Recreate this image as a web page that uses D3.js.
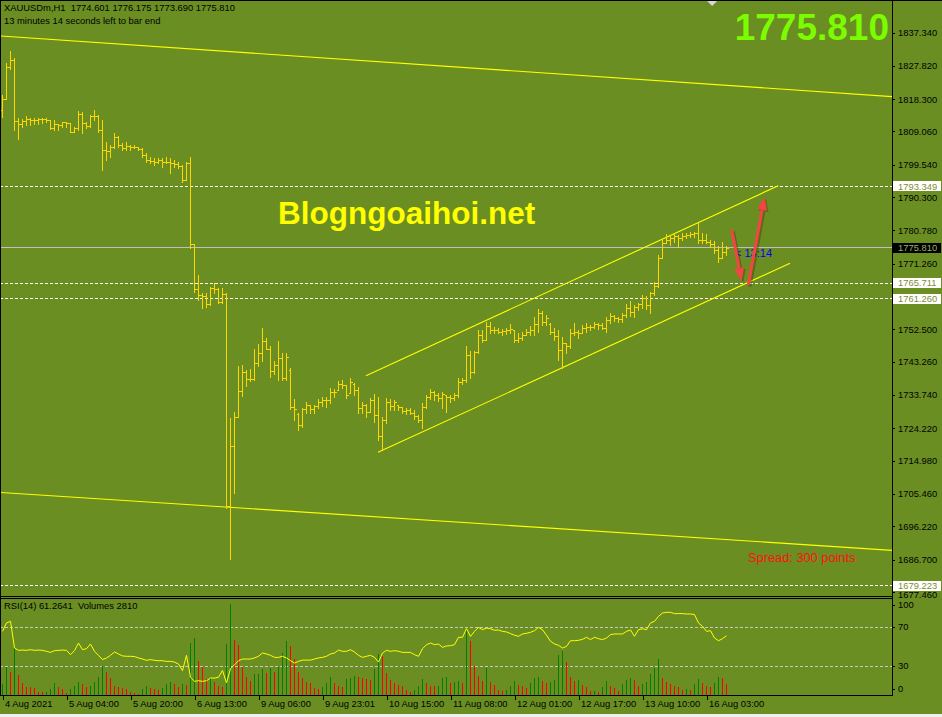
<!DOCTYPE html>
<html><head><meta charset="utf-8">
<script src="https://cdn.jsdelivr.net/npm/d3@7"></script>
<style>
html,body{margin:0;padding:0;background:#6b8e23;}
svg{display:block;}
text{font-family:"Liberation Sans",Arial,sans-serif;white-space:pre;}
</style></head>
<body><svg id="c" width="942" height="717"></svg>
<script>
// ---------------- DATA ----------------
const symbol = "XAUUSDm,H1";
const countdownText = "13 minutes 14 seconds left to bar end";
const opens = [1815.2,1818.3,1827.4,1829.5,1812.1,1811.2,1812.0,1812.6,1812.3,1812.3,1812.6,1812.6,1812.3,1810.0,1811.2,1810.9,1811.7,1811.4,1808.9,1810.0,
1814.0,1811.5,1810.6,1813.5,1813.5,1809.5,1803.8,1803.5,1804.6,1807.5,1805.2,1804.3,1804.9,1804.6,1804.6,1804.0,1802.3,1800.9,1800.6,1800.3,
1800.9,1800.3,1800.3,1800.0,1799.8,1799.2,1795.2,1800.0,1776.9,1764.0,1762.3,1762.0,1759.7,1764.3,1764.0,1760.3,1762.6,1702.0,1719.2,1727.5,
1734.8,1740.4,1738.2,1738.3,1742.8,1745.6,1749.2,1746.9,1740.6,1742.3,1744.2,1738.5,1741.0,1730.3,1728.4,1725.2,1729.7,1730.9,1729.7,1730.6,
1731.7,1732.3,1732.3,1734.6,1735.2,1736.9,1736.6,1734.2,1737.0,1735.2,1730.0,1730.9,1728.9,1732.3,1728.0,1722.0,1726.6,1731.7,1730.6,1730.9,
1730.3,1729.2,1729.4,1728.6,1727.7,1726.6,1730.3,1733.2,1734.6,1733.7,1732.9,1733.7,1733.2,1732.9,1733.7,1737.4,1738.0,1745.2,1740.3,1746.0,
1750.9,1749.4,1753.5,1752.3,1752.3,1751.7,1752.0,1752.3,1752.3,1749.4,1750.0,1750.9,1751.7,1752.3,1754.0,1757.2,1754.6,1754.0,1751.7,1750.6,
1746.6,1748.5,1747.7,1751.5,1751.7,1751.5,1752.9,1753.2,1753.2,1754.0,1753.7,1752.9,1755.2,1756.3,1755.7,1755.4,1756.6,1758.6,1757.5,1758.9,
1759.7,1761.5,1759.5,1762.9,1764.9,1772.9,1777.2,1778.0,1778.6,1779.2,1778.6,1779.2,1779.5,1779.7,1780.0,1778.0,1778.0,1777.5,1776.9,1775.2,
1772.9,1774.601];
const highs = [1819.5,1828.5,1832.1,1830.0,1812.8,1812.5,1813.5,1812.8,1812.8,1813.0,1812.8,1813.0,1812.3,1812.3,1811.2,1811.8,1811.7,1811.4,1810.4,1814.9,
1814.7,1811.8,1813.8,1815.2,1813.8,1812.3,1806.1,1805.2,1808.5,1807.8,1805.7,1806.1,1805.2,1805.2,1804.7,1804.2,1802.8,1801.8,1801.6,1801.6,
1801.4,1801.8,1801.4,1800.9,1800.4,1799.5,1800.4,1801.8,1776.9,1768.0,1762.8,1762.8,1764.7,1765.8,1764.2,1764.2,1763.0,1727.1,1729.0,1742.0,
1742.3,1740.9,1741.2,1746.8,1748.3,1752.8,1749.9,1747.7,1743.4,1749.2,1745.6,1745.8,1741.4,1732.5,1728.5,1729.9,1731.8,1730.9,1730.9,1732.6,
1733.2,1733.2,1735.8,1735.4,1737.7,1738.0,1736.6,1738.5,1737.1,1735.9,1731.6,1731.2,1732.8,1734.0,1733.1,1727.5,1732.8,1732.6,1732.3,1730.9,
1730.4,1729.9,1729.9,1729.4,1728.0,1731.5,1733.7,1735.4,1734.9,1734.2,1734.7,1733.7,1733.7,1734.2,1738.5,1738.5,1747.7,1746.4,1746.3,1752.3,
1752.3,1754.7,1754.7,1753.3,1752.8,1752.5,1752.8,1754.0,1752.3,1751.4,1751.8,1752.5,1753.5,1756.1,1758.2,1757.7,1756.6,1754.2,1752.8,1752.3,
1750.4,1748.5,1752.5,1754.2,1752.3,1753.7,1754.2,1753.7,1754.7,1754.4,1754.2,1756.1,1757.3,1756.6,1755.9,1757.1,1759.7,1760.7,1759.5,1760.1,
1762.3,1762.0,1763.3,1766.1,1773.7,1778.0,1779.7,1779.5,1779.9,1779.5,1779.9,1780.1,1780.4,1780.4,1782.8,1779.9,1779.7,1778.0,1777.7,1776.3,
1777.5,1776.175];
const lows = [1813.3,1818.3,1826.8,1809.5,1806.8,1810.4,1810.9,1810.9,1811.1,1811.1,1811.6,1811.8,1809.7,1809.5,1809.5,1810.4,1810.4,1808.8,1808.8,1809.5,
1808.5,1810.0,1810.4,1812.3,1809.0,1798.0,1800.9,1801.8,1804.2,1804.7,1803.8,1803.8,1803.8,1804.2,1803.8,1801.7,1800.4,1800.0,1799.5,1800.0,
1799.0,1800.0,1797.1,1799.0,1798.5,1794.7,1795.2,1775.7,1763.3,1760.9,1758.5,1758.8,1759.5,1762.8,1759.9,1759.9,1701.3,1686.8,1705.8,1727.5,
1733.4,1736.3,1737.7,1738.0,1742.0,1743.5,1746.8,1739.0,1739.7,1738.0,1738.0,1738.0,1729.6,1726.6,1723.7,1724.7,1728.5,1728.5,1728.5,1729.9,
1730.6,1730.4,1731.4,1733.2,1735.2,1735.6,1732.8,1734.2,1733.7,1728.7,1728.7,1727.5,1728.9,1726.1,1720.9,1718.0,1725.6,1729.4,1729.4,1729.4,
1728.5,1728.2,1728.2,1726.8,1726.1,1724.2,1730.1,1732.6,1732.3,1732.1,1729.9,1729.0,1731.8,1732.3,1733.2,1736.9,1737.5,1738.5,1739.9,1745.8,
1749.0,1749.4,1751.4,1751.4,1751.4,1750.9,1751.1,1751.4,1749.0,1749.0,1749.4,1750.9,1750.9,1750.9,1751.8,1753.7,1753.7,1751.1,1749.4,1743.7,
1741.4,1745.6,1747.1,1750.9,1749.9,1751.4,1751.8,1752.3,1752.8,1752.5,1752.5,1751.8,1754.2,1755.0,1754.7,1754.7,1755.9,1756.3,1756.1,1758.0,
1758.5,1758.3,1757.1,1762.3,1764.7,1772.9,1777.1,1776.6,1777.5,1776.1,1778.0,1778.5,1778.8,1778.8,1777.3,1777.3,1777.1,1776.1,1774.2,1771.8,
1772.8,1773.690];
const closes = [1818.3,1827.4,1829.5,1812.1,1811.2,1812.0,1812.6,1812.3,1812.3,1812.6,1812.6,1812.3,1810.0,1811.2,1810.9,1811.8,1811.5,1808.9,1810.0,1814.0,
1811.5,1810.6,1813.5,1813.5,1809.5,1803.8,1803.5,1804.6,1807.5,1805.2,1804.3,1804.9,1804.6,1804.6,1804.0,1802.3,1800.9,1800.6,1800.3,1800.9,
1800.3,1800.3,1800.0,1799.8,1799.2,1795.2,1800.0,1776.9,1764.0,1762.3,1762.0,1759.7,1764.3,1764.0,1760.3,1762.6,1702.0,1719.2,1727.5,1734.8,
1740.4,1738.2,1738.3,1742.8,1745.6,1749.2,1746.9,1740.6,1742.3,1744.2,1738.5,1744.6,1730.3,1729.7,1725.2,1729.7,1730.9,1729.7,1730.6,1731.7,
1732.3,1732.3,1734.6,1734.6,1736.9,1736.6,1733.7,1737.4,1735.2,1730.0,1730.9,1728.9,1732.3,1728.0,1722.0,1726.6,1731.7,1730.6,1731.7,1730.3,
1729.2,1729.4,1728.6,1727.7,1726.6,1730.3,1733.2,1734.6,1733.7,1732.9,1734.0,1733.2,1732.9,1733.7,1737.4,1738.0,1745.2,1740.3,1746.0,1750.9,
1749.4,1753.5,1752.3,1752.3,1751.7,1752.0,1752.3,1752.6,1749.4,1750.0,1750.9,1751.7,1752.3,1754.0,1757.2,1754.6,1755.7,1751.7,1750.6,1746.6,
1748.6,1747.7,1751.5,1751.7,1751.5,1752.9,1753.2,1753.2,1754.0,1753.7,1752.9,1755.2,1756.3,1755.7,1755.4,1756.6,1758.6,1757.5,1758.9,1759.7,
1761.5,1759.5,1762.9,1764.9,1772.9,1777.2,1778.0,1778.6,1779.2,1778.6,1779.2,1779.5,1779.7,1780.0,1778.0,1778.0,1777.5,1776.9,1775.2,1772.9,
1774.6,1775.810];
const volumes = [3000,7250,6000,12000,5180,3080,2250,2080,1880,1000,830,900,1680,3080,2250,1680,750,1680,2500,3330,
3000,2250,2500,3330,4580,7500,6000,4330,2500,2250,2000,1680,830,580,500,1680,2500,2000,1680,1430,
1830,2930,3330,2830,2250,2830,2750,13080,14330,8680,7250,4180,4330,3500,2500,2250,12930,22930,13930,12680,
7250,4630,3580,5330,5500,6580,5580,6930,5830,7080,10580,13680,12430,9080,5930,4330,3330,3250,1830,1680,
2080,3080,4580,3080,2330,2250,4180,4330,4830,4580,4500,4180,3830,6680,10330,10000,5580,3930,3080,2680,
2430,1430,830,1430,2500,4180,3080,2500,2330,2500,4330,4580,3080,3330,3580,3080,16680,13680,7500,4830,
3630,6930,3330,2680,1330,1080,1330,2330,3580,2580,2500,1930,3080,4330,4580,3580,3080,3330,3830,10080,
11080,8330,4580,3580,3830,2580,2080,1080,1150,830,2080,3580,2330,1830,1080,2830,3830,4330,3830,2500,
2830,3330,5330,6830,9080,4330,3330,2830,2330,2250,1330,1580,1330,2830,4080,3080,2330,2080,3080,4580,
4330,2810];
const rsi = [65.8,74.4,76.1,48.7,46.3,46.6,46.3,47.0,46.3,46.6,46.3,45.3,44.2,46.0,46.3,46.6,46.3,41.9,46.0,53.8,
47.0,48.0,52.8,45.3,41.2,36.8,38.5,41.2,44.6,42.6,40.6,40.2,40.2,39.9,38.5,37.4,36.1,36.8,36.1,35.7,
35.7,35.0,35.0,34.3,32.3,25.5,41.2,18.7,14.5,15.2,14.5,15.2,17.9,17.9,18.7,25.6,13.0,27.5,31.6,35.7,
37.4,37.4,37.4,38.5,40.2,43.6,42.6,41.2,39.1,39.1,40.2,38.5,35.7,33.3,35.0,36.3,36.3,36.3,37.4,38.5,
39.1,40.2,42.6,43.6,46.6,45.3,45.3,47.0,44.6,41.2,39.1,40.2,41.2,39.1,34.3,43.6,46.3,45.3,46.0,45.3,
44.2,44.2,44.2,41.9,40.2,48.0,52.1,53.8,52.1,52.8,49.4,50.8,51.1,52.1,59.7,59.7,68.5,60.6,65.8,69.9,
67.5,69.2,68.5,66.9,67.2,65.8,65.2,63.5,61.8,60.7,63.1,63.8,64.8,66.5,69.9,67.5,61.8,55.6,52.9,51.5,
48.7,50.4,56.2,56.2,56.6,57.6,59.7,57.3,59.7,58.3,57.3,59.0,62.4,63.1,63.1,63.1,65.8,67.2,60.7,67.5,
68.5,67.5,74.4,76.1,81.2,84.6,85.3,85.3,84.0,84.0,84.0,83.6,83.6,83.0,74.4,71.0,65.8,66.5,59.0,56.2,
58.3,61.26];
const timeTickIdx = [0,16,32,48,64,80,96,112,128,144,160,176];
const timeTickLabels = ["4 Aug 2021","5 Aug 04:00","5 Aug 20:00","6 Aug 13:00","9 Aug 06:00","9 Aug 23:01","10 Aug 15:00","11 Aug 08:00","12 Aug 01:00","12 Aug 17:00","13 Aug 10:00","16 Aug 03:00"];
const priceTicks = [1837.340,1827.820,1818.300,1809.060,1799.540,1790.300,1780.780,1771.260,1752.500,1743.260,1733.740,1724.220,1714.980,1705.460,1696.220,1686.700,1677.460];
const hLevels = [1793.349,1765.711,1761.260,1679.223];
const bidPrice = 1775.810;
const rsiLevels = [70,30];
const rsiTicks = [100,70,30,0];
// trend lines: [barIndex, price] endpoints
const longTop = [[-0.625,1836.34],[222.4,1819.02]];
const longBottom = [[-0.625,1705.88],[222.4,1689.31]];
const chanUpper = [[90.875,1739.24],[193.95,1793.55]];
const chanLower = [[93.875,1717.34],[196.875,1771.37]];
const arrowDown = [[182.3,1780.89],[184.8,1766.31]];
const arrowUp = [[186.45,1765.17],[190.5,1790.32]];
const shiftMarkerIdx = 177.4;
const rsiLabel = "RSI(14) 61.2641  Volumes 2810";
const timerText = "< 13:14";
const spreadText = "Spread: 300 points";
const watermark = "Blogngoaihoi.net";

// ---------------- DRAW ----------------
const svg = d3.select("#c");
const AX = 892, MAIN_B = 596, SUB_T = 598.5, SUB_B = 696;
const FS = 9.4;
const n = closes.length;
const x = d3.scaleLinear().domain([0, n-1]).range([2.5, 2.5 + 4*(n-1)]);
const y = d3.scaleLinear().domain([1837.34, 1686.70]).range([32.5, 559.5]);
const yR = d3.scaleLinear().domain([0, 100]).range([695.5, 598]);
const yV = d3.scaleLinear().domain([0, 24375]).range([695.5, 598]);
const px = v => Math.round(v - 0.5) + 0.5;

svg.append("rect").attr("width", 942).attr("height", 717).attr("fill", "#6b8e23");

const defs = svg.append("defs");
defs.append("clipPath").attr("id","cm").append("rect").attr("x",1).attr("y",1).attr("width",AX-1).attr("height",MAIN_B-1);
defs.append("clipPath").attr("id","cs").append("rect").attr("x",1).attr("y",SUB_T+0.5).attr("width",AX-1).attr("height",SUB_B-SUB_T-1);

const main = svg.append("g").attr("clip-path","url(#cm)");
const sub = svg.append("g").attr("clip-path","url(#cs)");

// horizontal dashed levels
main.selectAll("line.hl").data(hLevels).join("line").attr("class","hl")
  .attr("x1",0).attr("x2",AX).attr("y1",d=>px(y(d))).attr("y2",d=>px(y(d)))
  .attr("stroke","#ffffff").attr("stroke-width",1).attr("stroke-dasharray","3,2").attr("shape-rendering","crispEdges");
// bid line
main.append("line").attr("x1",0).attr("x2",AX).attr("y1",px(y(bidPrice))).attr("y2",px(y(bidPrice)))
  .attr("stroke","#c0c0c0").attr("stroke-width",1).attr("shape-rendering","crispEdges");

// trend lines
[longTop,longBottom,chanUpper,chanLower].forEach(L=>{
  main.append("line").attr("x1",x(L[0][0])).attr("y1",y(L[0][1])).attr("x2",x(L[1][0])).attr("y2",y(L[1][1]))
   .attr("stroke","#ffff00").attr("stroke-width",1.1);
});

// bars
const bars = main.append("g").attr("fill","#ffd700");
d3.range(n).forEach(i=>{
  const cx = x(i) - 0.5;
  const yh = Math.round(y(highs[i])), yl = Math.round(y(lows[i]));
  bars.append("rect").attr("x",cx).attr("y",yh).attr("width",1).attr("height",Math.max(1,yl-yh+1));
  bars.append("rect").attr("x",cx-1).attr("y",Math.round(y(opens[i]))).attr("width",1).attr("height",1);
  bars.append("rect").attr("x",cx+1).attr("y",Math.round(y(closes[i]))).attr("width",2).attr("height",1);
});

// watermark
main.append("text").attr("x",278).attr("y",224).attr("fill","#ffff00").attr("font-size",31.5).attr("font-weight","bold").text(watermark);

// big price
svg.append("text").attr("x",889).attr("y",40).attr("text-anchor","end").attr("fill","#7cfc00")
  .attr("font-size",37).attr("font-weight","bold").text(d3.format(".3f")(bidPrice));

// timer text
main.append("text").attr("x",735).attr("y",257).attr("fill","#0000ff").attr("font-family","DejaVu Sans").attr("font-size",11).text(timerText);

// arrows
function arrow(A){
  const x1=x(A[0][0]), y1=y(A[0][1]), x2=x(A[1][0]), y2=y(A[1][1]);
  const ang=Math.atan2(y2-y1,x2-x1), L=13, Wd=5;
  const bx=x2-L*Math.cos(ang), by=y2-L*Math.sin(ang);
  const head=[[x2,y2],[bx+Wd*Math.sin(ang),by-Wd*Math.cos(ang)],[bx-Wd*Math.sin(ang),by+Wd*Math.cos(ang)]];
  const g=main.append("g");
  g.append("line").attr("x1",x1+1.5).attr("y1",y1+1.5).attr("x2",bx+1.5).attr("y2",by+1.5).attr("stroke","rgba(60,40,0,0.35)").attr("stroke-width",3.5);
  g.append("path").attr("d","M"+head.map(p=>[p[0]+1.5,p[1]+1.5].join(",")).join("L")+"Z").attr("fill","rgba(60,40,0,0.35)");
  g.append("line").attr("x1",x1).attr("y1",y1).attr("x2",bx).attr("y2",by).attr("stroke","#f44444").attr("stroke-width",3);
  g.append("path").attr("d","M"+head.map(p=>p.join(",")).join("L")+"Z").attr("fill","#f44444");
}
arrow(arrowDown); arrow(arrowUp);

// spread text
main.append("text").attr("x",748).attr("y",562).attr("fill","#ff1010").attr("font-size",12.8).text(spreadText);

// header
svg.append("text").attr("x",4).attr("y",11).attr("font-size",FS).attr("fill","#000")
  .text(symbol+"  "+[opens[n-1],highs[n-1],lows[n-1],closes[n-1]].map(d3.format(".3f")).join(" "));
svg.append("text").attr("x",4).attr("y",24).attr("font-size",FS).attr("fill","#000").text(countdownText);

// shift marker
svg.append("path").attr("d",`M${x(shiftMarkerIdx)-5},1L${x(shiftMarkerIdx)+5},1L${x(shiftMarkerIdx)},6Z`).attr("fill","#d8d8d8");

// price axis
const ya = svg.append("g").attr("transform",`translate(${AX},0)`)
  .call(d3.axisRight(y).tickValues(priceTicks).tickSize(3).tickPadding(3).tickFormat(d3.format(".3f")));
ya.select(".domain").remove();
ya.selectAll("line").attr("stroke","#000").attr("shape-rendering","crispEdges");
ya.selectAll("text").attr("fill","#000").attr("font-size",FS).attr("font-family","Liberation Sans, Arial, sans-serif");
// lowest tick label sits just under the level box, as in the terminal
ya.selectAll(".tick").filter(d=>d===priceTicks[priceTicks.length-1]).select("text").attr("y",2.5);

// level labels
const lv = svg.append("g");
hLevels.forEach(v=>{
  const yy=y(v);
  lv.append("rect").attr("x",AX+1).attr("y",Math.round(yy)-5).attr("width",48).attr("height",10).attr("fill","#ffffff");
  lv.append("text").attr("x",AX+6).attr("y",yy).attr("dy","0.34em").attr("font-size",FS).attr("fill","#808c30").text(d3.format(".3f")(v));
});
lv.append("rect").attr("x",AX+1).attr("y",Math.round(y(bidPrice))-5).attr("width",48).attr("height",10).attr("fill","#000");
lv.append("text").attr("x",AX+6).attr("y",y(bidPrice)).attr("dy","0.34em").attr("font-size",FS).attr("fill","#9cb060").text(d3.format(".3f")(bidPrice));

// ----- sub window -----
sub.selectAll("line.rl").data(rsiLevels).join("line").attr("class","rl")
  .attr("x1",0).attr("x2",AX).attr("y1",d=>px(yR(d))).attr("y2",d=>px(yR(d)))
  .attr("stroke","#c8c8c8").attr("stroke-dasharray","3,2").attr("shape-rendering","crispEdges");
sub.selectAll("rect.v").data(volumes).join("rect").attr("class","v")
  .attr("x",(d,i)=>x(i)-0.5).attr("width",1)
  .attr("y",d=>Math.round(yV(d))).attr("height",d=>Math.max(0,Math.round(yV(0))-Math.round(yV(d))))
  .attr("fill",(d,i)=> i===0 || d>volumes[i-1] ? "#008000" : "#ff0000");
sub.append("path").datum(rsi).attr("fill","none").attr("stroke","#ffff00").attr("stroke-width",1)
  .attr("d", d3.line().x((d,i)=>x(i)).y(d=>yR(d)));
svg.append("text").attr("x",4).attr("y",609).attr("font-size",FS).attr("fill","#000").text(rsiLabel);

const ra = svg.append("g").attr("transform",`translate(${AX},0)`);
rsiTicks.forEach(v=>{
  const yy = Math.min(689, Math.max(605, yR(v)));
  ra.append("line").attr("x1",0).attr("x2",3).attr("y1",px(yy)).attr("y2",px(yy)).attr("stroke","#000").attr("shape-rendering","crispEdges");
  ra.append("text").attr("x",6).attr("y",yy).attr("dy","0.34em").attr("font-size",FS).attr("fill","#000").text(v);
});

// frame lines
const fr = svg.append("g").attr("stroke","#000").attr("shape-rendering","crispEdges");
fr.append("line").attr("x1",AX+0.5).attr("x2",AX+0.5).attr("y1",0).attr("y2",SUB_B);
fr.append("line").attr("x1",0).attr("x2",AX).attr("y1",MAIN_B+0.5).attr("y2",MAIN_B+0.5);
fr.append("line").attr("x1",0).attr("x2",AX).attr("y1",SUB_T).attr("y2",SUB_T);
fr.append("line").attr("x1",0).attr("x2",AX).attr("y1",SUB_B-0.5).attr("y2",SUB_B-0.5);
fr.append("line").attr("x1",0.5).attr("x2",0.5).attr("y1",0).attr("y2",SUB_B);
fr.append("line").attr("x1",0).attr("x2",942).attr("y1",0.5).attr("y2",0.5);

// time axis
const xa = svg.append("g").attr("transform",`translate(0,${SUB_B-0.5})`)
  .call(d3.axisBottom(x).tickValues(timeTickIdx).tickSize(4).tickFormat((d,k)=>timeTickLabels[k]));
xa.select(".domain").remove();
xa.selectAll("line").attr("stroke","#000").attr("shape-rendering","crispEdges");
xa.selectAll("text").attr("text-anchor","start").attr("dx",2).attr("y",8).attr("dy","0.34em")
  .attr("fill","#000").attr("font-size",FS).attr("font-family","Liberation Sans, Arial, sans-serif");

svg.append("rect").attr("x",0).attr("y",714).attr("width",942).attr("height",3).attr("fill","#f0f0f0");
</script>
</body></html>
